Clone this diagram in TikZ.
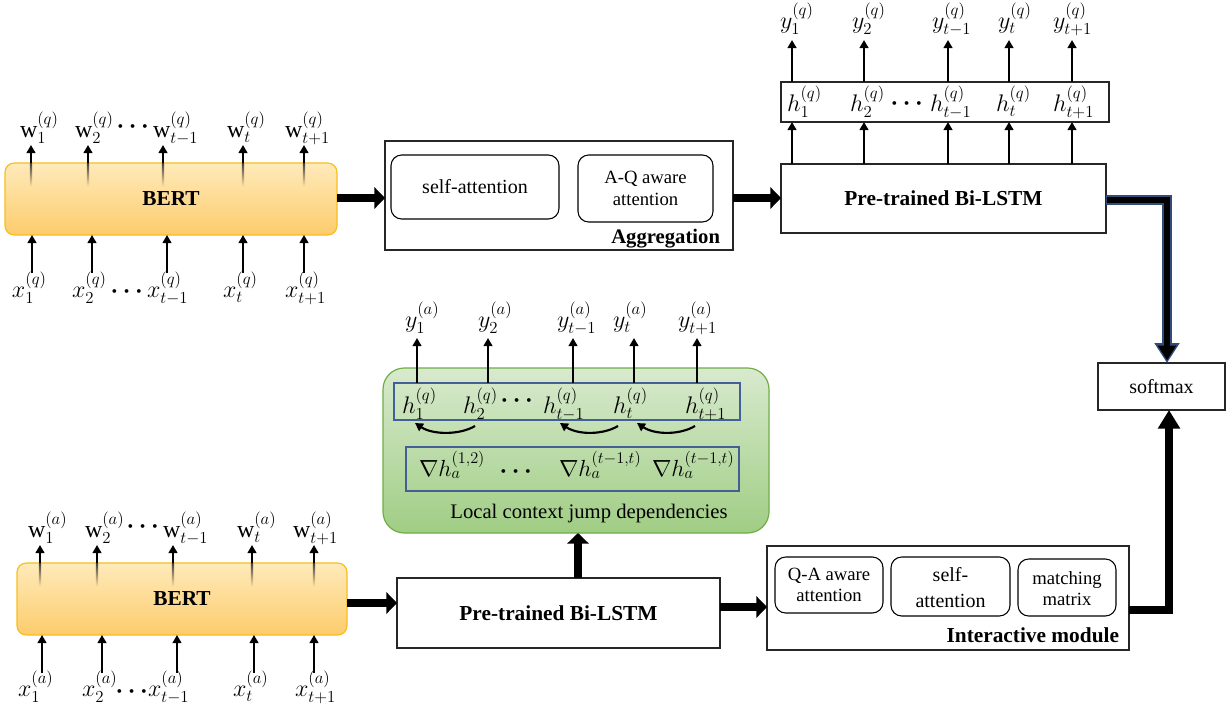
\RequirePackage{fix-cm}
\documentclass[tikz,border=0pt]{standalone}
\usepackage{amsmath}
\usepackage{fontspec}
\setmainfont{Liberation Serif}
\usetikzlibrary{arrows.meta,fit,calc}

\definecolor{bertTop}{RGB}{255,234,186}
\definecolor{bertBot}{RGB}{252,204,108}
\definecolor{bertEdge}{RGB}{248,190,30}
\definecolor{greenTop}{RGB}{216,234,206}
\definecolor{greenBot}{RGB}{160,205,132}
\definecolor{greenEdge}{RGB}{112,173,71}
\definecolor{rowEdge}{RGB}{68,94,150}
\definecolor{navyEdge}{RGB}{50,75,125}

\newcommand{\tokdots}{$\boldsymbol{\cdots}$}

\tikzset{
  every node/.style={inner sep=0pt, outer sep=0pt},
  blockbox/.style={draw=black!85, line width=0.9pt},
  softbox/.style={draw=black, line width=0.8pt, rounded corners=8pt},
  bertbox/.style={draw=bertEdge, line width=0.9pt, rounded corners=7pt,
    top color=bertTop, bottom color=bertBot},
  greenbox/.style={draw=greenEdge, line width=0.9pt, rounded corners=16pt,
    top color=greenTop, bottom color=greenBot},
  rowbox/.style={draw=rowEdge, line width=0.9pt},
  titletxt/.style={font=\fontsize{16}{19}\selectfont\bfseries},
  bodytxt/.style={font=\fontsize{15}{20}\selectfont, align=center},
  smalltxt/.style={font=\fontsize{14}{16}\selectfont, align=center},
  sym/.style={font=\fontsize{18}{22}\selectfont, anchor=base west},
  gradsym/.style={font=\fontsize{17.5}{21}\selectfont, anchor=base west},
  dotsym/.style={font=\fontsize{18}{22}\selectfont},
  thinarrow/.style={line width=1.6pt, -{Triangle[width=6.5pt,length=6pt]}},
  fatarrow/.style={line width=6.5pt, -{Triangle[width=16pt,length=8pt]}},
}

\begin{document}
\begin{tikzpicture}[x=0.75pt,y=-0.75pt]
\useasboundingbox (0,0) rectangle (1231,711);

% ---------------- question branch ----------------
\node[bertbox, fit={(5,163)(337,235)}] (bertq) {};
\node[titletxt] (bertqtxt) at (bertq.center) {BERT};
\foreach \c in {31,88,163,243,304} {
  \shade[top color=black!75, bottom color=bertTop!60!bertBot] (\c-1.1,163) rectangle (\c+1.1,186);
  \draw[thinarrow] (\c,163) -- (\c,145);
}
\foreach \c in {32,92,167,243,304} {
  \draw[thinarrow] (\c,273) -- (\c,235);
}
\foreach \x/\s [count=\i] in {20/1,75/2,153/t-1,227/t,285/t+1} {
  \node[sym] (wq\i) at (\x,137) {$\mathrm{w}_{\s}^{(q)}$};
}
\node[dotsym] (wqdots) at (135,127) {\tokdots};
\foreach \x/\s [count=\i] in {12/1,72/2,147/t-1,223/t,285/t+1} {
  \node[sym] (xq\i) at (\x,297) {$x_{\s}^{(q)}$};
}
\node[dotsym] (xqdots) at (129,292) {\tokdots};

% aggregation block
\node[blockbox, fit={(385,141)(733,250)}] (agg) {};
\node[softbox, fit={(391,155)(559,219)}] (selfq) {};
\node[bodytxt] (selfqtxt) at (selfq.center) {self-attention};
\node[softbox, fit={(578,155)(713,222)}] (aqatt) {};
\node[smalltxt] (aqatttxt) at (aqatt.center) {A-Q aware\\attention};
\node[anchor=base east, font=\fontsize{15.5}{19}\selectfont\bfseries] (aggname) at (720,243) {Aggregation};

% question Bi-LSTM and its outputs
\node[blockbox, fit={(781,164)(1106,233)}] (qbil) {};
\node[titletxt] (qbiltxt) at (qbil.center) {Pre-trained Bi-LSTM};
\node[blockbox, fit={(781,82)(1109,122)}] (qrow) {};
\foreach \c in {792,864,948,1009,1072} {
  \draw[thinarrow] (\c,164) -- (\c,122);
  \draw[thinarrow] (\c,82) -- (\c,40);
}
\foreach \x/\s [count=\i] in {787/1,850/2,930/t-1,996/t,1053/t+1} {
  \node[sym] (hq\i) at (\x,111) {$h_{\s}^{(q)}$};
}
\node[dotsym] (hqdots) at (909,104) {\tokdots};
\foreach \x/\s [count=\i] in {780/1,852/2,932/t-1,998/t,1053/t+1} {
  \node[sym] (yq\i) at (\x,28) {$y_{\s}^{(q)}$};
}

\coordinate (qy) at (0,198);
\draw[fatarrow] (bertq.east |- qy) -- (agg.west |- qy);
\draw[fatarrow] (agg.east |- qy) -- (qbil.west |- qy);

% ---------------- softmax ----------------
\node[blockbox, fit={(1098,363)(1225,410)}] (soft) {};
\node[bodytxt] (softtxt) at (soft.center) {softmax};
\coordinate (qturn) at (1167,200);
\draw[navyEdge, line width=8pt, -{Triangle[width=18pt,length=15pt]}]
  (qbil.east |- qturn) -- (qturn) -- (qturn |- soft.north);
\draw[black, line width=5.2pt, -{Triangle[width=13pt,length=11pt]}, shorten >=2pt, shorten <=0.8pt]
  (qbil.east |- qturn) -- (qturn) -- (qturn |- soft.north);

% ---------------- answer branch ----------------
\node[bertbox, fit={(17,563)(347,635)}] (berta) {};
\node[titletxt] (bertatxt) at (berta.center) {BERT};
\foreach \c in {40,97,173,252,314} {
  \shade[top color=black!75, bottom color=bertTop!60!bertBot] (\c-1.1,563) rectangle (\c+1.1,586);
  \draw[thinarrow] (\c,563) -- (\c,545);
}
\foreach \c in {42,102,177,254,314} {
  \draw[thinarrow] (\c,673) -- (\c,635);
}
\foreach \x/\s [count=\i] in {28/1,85/2,163/t-1,237/t,293/t+1} {
  \node[sym] (wa\i) at (\x,537) {$\mathrm{w}_{\s}^{(a)}$};
}
\node[dotsym] (wadots) at (145,527) {\tokdots};
\foreach \x/\s [count=\i] in {18/1,82/2,148/t-1,233/t,295/t+1} {
  \node[sym] (xa\i) at (\x,696) {$x_{\s}^{(a)}$};
}
\node[dotsym] (xadots) at (134,692) {\tokdots};

\node[blockbox, fit={(397,578)(720,648)}] (abil) {};
\node[titletxt] (abiltxt) at (abil.center) {Pre-trained Bi-LSTM};
\coordinate (ay) at (0,603);
\draw[fatarrow] (berta.east |- ay) -- (abil.west |- ay);

% local context jump dependencies
\node[greenbox, fit={(383,368)(769,533)}] (ctx) {};
\node[rowbox, fit={(394,383)(740,420)}] (arow) {};
\node[rowbox, fit={(406,447)(739,491)}] (grow) {};
\foreach \c in {417,488,573,634,697} {
  \draw[thinarrow] (\c,383) -- (\c,338);
}
\foreach \x/\s [count=\i] in {402/1,463/2,543/t-1,613/t,685/t+1} {
  \node[sym] (ha\i) at (\x,413) {$h_{\s}^{(q)}$};
}
\node[dotsym] (hadots) at (519,401) {\tokdots};
\foreach \x/\s [count=\i] in {405/1,478/2,557/t-1,613/t,678/t+1} {
  \node[sym] (ya\i) at (\x,327) {$y_{\s}^{(a)}$};
}
\node[gradsym] (g1) at (419,476) {$\nabla h_a^{(1,2)}$};
\node[gradsym] (g2) at (559,476) {$\nabla h_a^{(t-1,t)}$};
\node[gradsym] (g3) at (652,476) {$\nabla h_a^{(t-1,t)}$};
\node[dotsym] (gdots) at (518,472) {\tokdots};
\node[font=\fontsize{15.5}{19}\selectfont, anchor=base] (ctxname) at (589,518) {Local context jump dependencies};

\coordinate (j1s) at (475,426); \coordinate (j1e) at (415,423);
\coordinate (j2s) at (618,426); \coordinate (j2e) at (560,423);
\coordinate (j3s) at (695,426); \coordinate (j3e) at (637,423);
\foreach \s/\e in {j1s/j1e,j2s/j2e,j3s/j3e} {
  \draw[thinarrow] (\s) .. controls ($(\s)+(-15,9)$) and ($(\e)+(18,12)$) .. (\e);
}

\coordinate (ax) at (578,0);
\draw[fatarrow] (abil.north -| ax) -- (ctx.south -| ax);

% interactive module
\node[blockbox, fit={(767,546)(1129,650)}] (inter) {};
\node[softbox, fit={(775,557)(883,613)}] (qaatt) {};
\node[smalltxt] (qaatttxt) at (qaatt.center) {Q-A aware\\attention};
\node[softbox, fit={(891,557)(1010,616)}] (selfa) {};
\node[bodytxt, font=\fontsize{15}{19.5}\selectfont] (selfatxt) at ($(selfa.center)+(0,1.5)$) {self-\\attention};
\node[softbox, fit={(1018,559)(1116,616)}] (match) {};
\node[smalltxt] (matchtxt) at ($(match.center)+(0,1)$) {matching\\matrix};
\node[titletxt, anchor=base east] (intername) at (1119,642) {Interactive module};

\coordinate (iy) at (0,607);
\draw[fatarrow] (abil.east |- iy) -- (inter.west |- iy);
\coordinate (aturn) at (1169,610);
\draw[line width=6.5pt, -{Triangle[width=16pt,length=14pt]}]
  (inter.east |- aturn) -- (aturn) -- (aturn |- soft.south);
\end{tikzpicture}
\end{document}
